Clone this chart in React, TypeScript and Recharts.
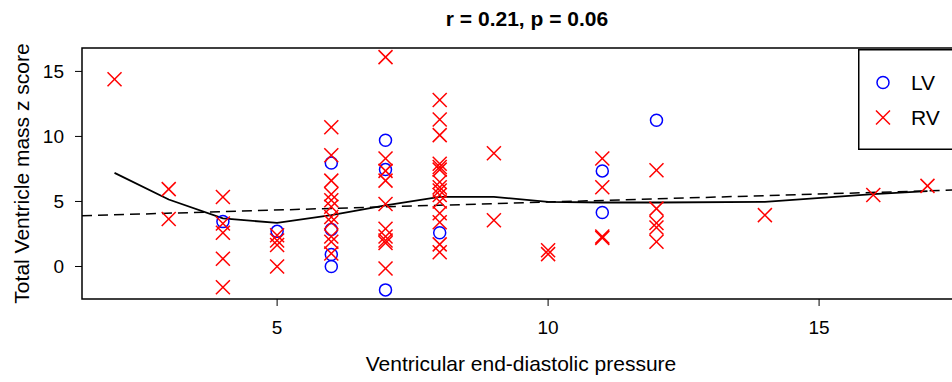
import { ComposedChart, Scatter, Line, XAxis, YAxis, ReferenceArea, Legend } from 'recharts';

// LV points (blue open circles)
const lvPoints = [
    { x: 4, y: 3.45 },
    { x: 5, y: 2.7 },
    { x: 6, y: 7.95 },
    { x: 6, y: 2.85 },
    { x: 6, y: 0.92 },
    { x: 6, y: 0.0 },
    { x: 7, y: 9.7 },
    { x: 7, y: 7.45 },
    { x: 7, y: -1.8 },
    { x: 8, y: 2.6 },
    { x: 11, y: 7.35 },
    { x: 11, y: 4.15 },
    { x: 12, y: 11.25 },
];

// RV points (red crosses)
const rvPoints = [
    { x: 2, y: 14.4 },
    { x: 3, y: 5.95 },
    { x: 3, y: 3.65 },
    { x: 4, y: 5.35 },
    { x: 4, y: 3.3 },
    { x: 4, y: 2.6 },
    { x: 4, y: 0.6 },
    { x: 4, y: -1.6 },
    { x: 5, y: 2.4 },
    { x: 5, y: 2.0 },
    { x: 5, y: 1.65 },
    { x: 5, y: 0.0 },
    { x: 6, y: 10.7 },
    { x: 6, y: 8.55 },
    { x: 6, y: 6.6 },
    { x: 6, y: 5.55 },
    { x: 6, y: 5.1 },
    { x: 6, y: 4.6 },
    { x: 6, y: 3.8 },
    { x: 6, y: 3.4 },
    { x: 6, y: 2.3 },
    { x: 6, y: 1.9 },
    { x: 6, y: 1.0 },
    { x: 7, y: 16.1 },
    { x: 7, y: 8.3 },
    { x: 7, y: 7.35 },
    { x: 7, y: 6.6 },
    { x: 7, y: 4.8 },
    { x: 7, y: 2.9 },
    { x: 7, y: 2.3 },
    { x: 7, y: 2.0 },
    { x: 7, y: 1.8 },
    { x: 7, y: -0.15 },
    { x: 8, y: 12.8 },
    { x: 8, y: 11.3 },
    { x: 8, y: 10.1 },
    { x: 8, y: 7.9 },
    { x: 8, y: 7.65 },
    { x: 8, y: 7.45 },
    { x: 8, y: 6.5 },
    { x: 8, y: 6.1 },
    { x: 8, y: 5.85 },
    { x: 8, y: 5.5 },
    { x: 8, y: 5.0 },
    { x: 8, y: 4.1 },
    { x: 8, y: 3.4 },
    { x: 8, y: 1.7 },
    { x: 8, y: 1.1 },
    { x: 9, y: 8.7 },
    { x: 9, y: 3.55 },
    { x: 10, y: 1.25 },
    { x: 10, y: 0.95 },
    { x: 11, y: 8.3 },
    { x: 11, y: 6.1 },
    { x: 11, y: 2.3 },
    { x: 11, y: 2.2 },
    { x: 12, y: 7.4 },
    { x: 12, y: 4.45 },
    { x: 12, y: 3.35 },
    { x: 12, y: 3.0 },
    { x: 12, y: 1.9 },
    { x: 14, y: 3.95 },
    { x: 16, y: 5.5 },
    { x: 17, y: 6.2 },
];

// smoothed curve (solid)
const loessCurve = [
    { x: 2, y: 7.2 },
    { x: 3, y: 5.15 },
    { x: 4, y: 3.7 },
    { x: 5, y: 3.35 },
    { x: 6, y: 3.95 },
    { x: 7, y: 4.7 },
    { x: 8, y: 5.35 },
    { x: 9, y: 5.35 },
    { x: 10, y: 4.97 },
    { x: 11, y: 4.92 },
    { x: 12, y: 4.92 },
    { x: 14, y: 4.97 },
    { x: 16, y: 5.56 },
    { x: 17, y: 5.8 },
];

// linear fit (dashed), end points at the plot edges
const fitLine = [
    { x: 1.4, y: 3.9 },
    { x: 17.6, y: 5.89 },
];

const xTicks = [5, 10, 15];
const yTicks = [0, 5, 10, 15];
const xDomain = [1.4, 17.6];
const yDomain = [-2.5, 16.8];

const FONT = '"Liberation Sans", Arial, Helvetica, sans-serif';

const Circle = ({ cx, cy }: any) => (
    <circle cx={cx} cy={cy} r={6} fill="none" stroke="#0000FF" strokeWidth={1.5} />
);

const Cross = ({ cx, cy }: any) => (
    <g stroke="#FF0000" strokeWidth={1.5}>
        <line x1={cx - 7} y1={cy - 7} x2={cx + 7} y2={cy + 7} />
        <line x1={cx - 7} y1={cy + 7} x2={cx + 7} y2={cy - 7} />
    </g>
);

const LegendBox = () => (
    <svg width={110} height={102} style={{ display: 'block' }}>
        <rect x={0.75} y={0.75} width={120} height={99.5} fill="#fff" stroke="#000" strokeWidth={1.5} />
        <circle cx={25} cy={33.5} r={6} fill="none" stroke="#0000FF" strokeWidth={1.5} />
        <g stroke="#FF0000" strokeWidth={1.5}>
            <line x1={18} y1={61.5} x2={32} y2={75.5} />
            <line x1={18} y1={75.5} x2={32} y2={61.5} />
        </g>
        <text x={53} y={41} fontFamily={FONT} fontSize={21} fill="#000">LV</text>
        <text x={53} y={76} fontFamily={FONT} fontSize={21} fill="#000">RV</text>
    </svg>
);

const YTitle = ({ viewBox }: any) => {
    const cy = viewBox.y + viewBox.height / 2;
    return (
        <text
            x={29}
            y={cy}
            transform={`rotate(-90 29 ${cy})`}
            textAnchor="middle"
            fontFamily={FONT}
            fontSize={21}
            fill="#000"
        >
            Total Ventricle mass z score
        </text>
    );
};

export default function App() {
    return (
        <div
            style={{
                position: 'fixed',
                left: 0,
                top: 0,
                width: 952,
                height: 382,
                overflow: 'hidden',
                background: '#fff',
            }}
        >
            <div
                style={{
                    position: 'absolute',
                    left: 327,
                    width: 400,
                    top: 7,
                    textAlign: 'center',
                    fontFamily: FONT,
                    fontWeight: 'bold',
                    fontSize: 21,
                    lineHeight: '24px',
                }}
            >
                r = 0.21, p = 0.06
            </div>
            <ComposedChart width={980} height={382} margin={{ top: 48, right: 20, bottom: 0, left: 0 }}>
                <XAxis
                    type="number"
                    dataKey="x"
                    domain={xDomain}
                    ticks={xTicks}
                    allowDataOverflow
                    axisLine={false}
                    tickSize={7}
                    tickMargin={15}
                    height={83}
                    tickLine={{ stroke: '#000', strokeWidth: 1 }}
                    tick={{ fill: '#000', fontSize: 19, fontFamily: FONT }}
                    label={{
                        value: 'Ventricular end-diastolic pressure',
                        position: 'insideBottom',
                        offset: 11,
                        fill: '#000',
                        fontSize: 21,
                        fontFamily: FONT,
                    }}
                />
                <YAxis
                    type="number"
                    dataKey="y"
                    domain={yDomain}
                    ticks={yTicks}
                    allowDataOverflow
                    axisLine={false}
                    tickSize={7}
                    tickMargin={11}
                    width={82}
                    tickLine={{ stroke: '#000', strokeWidth: 1 }}
                    tick={{ fill: '#000', fontSize: 19, fontFamily: FONT }}
                    label={{ content: YTitle }}
                />
                <ReferenceArea
                    x1={xDomain[0]}
                    x2={xDomain[1]}
                    y1={yDomain[0]}
                    y2={yDomain[1]}
                    fill="none"
                    fillOpacity={0}
                    stroke="#000"
                    strokeWidth={1.5}
                />
                <Line
                    data={fitLine}
                    dataKey="y"
                    type="linear"
                    stroke="#000"
                    strokeWidth={1.5}
                    strokeDasharray="10 6"
                    dot={false}
                    activeDot={false}
                    legendType="none"
                    isAnimationActive={false}
                />
                <Line
                    data={loessCurve}
                    dataKey="y"
                    type="linear"
                    stroke="#000"
                    strokeWidth={1.8}
                    dot={false}
                    activeDot={false}
                    legendType="none"
                    isAnimationActive={false}
                />
                <Scatter name="LV" data={lvPoints} shape={Circle} isAnimationActive={false} />
                <Scatter name="RV" data={rvPoints} shape={Cross} isAnimationActive={false} />
                <Legend
                    layout="horizontal"
                    align="center"
                    verticalAlign="middle"
                    content={LegendBox}
                    wrapperStyle={{ left: 858, top: 49, width: 110, height: 102 }}
                />
            </ComposedChart>
        </div>
    );
}
